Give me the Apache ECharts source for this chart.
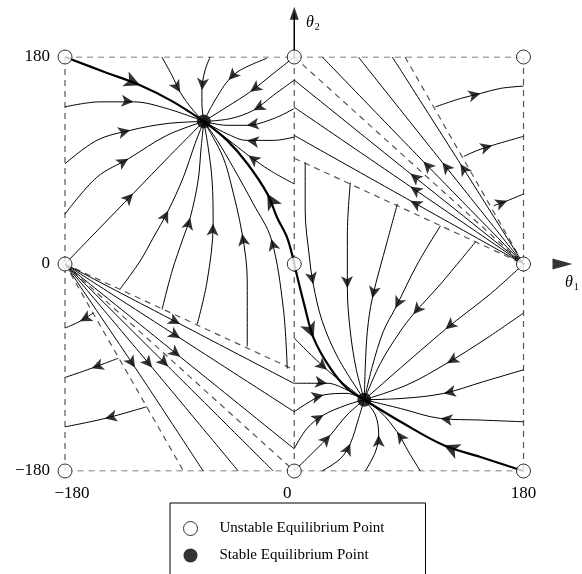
<!DOCTYPE html>
<html><head><meta charset="utf-8">
<script src="https://cdn.jsdelivr.net/npm/echarts@6/dist/echarts.min.js"></script>
<style>html,body{margin:0;padding:0;background:#fff}#c{width:582px;height:574px}</style>
</head><body><div id="c"></div>
<script>
const FONT = '"Liberation Serif","Times New Roman",serif';

// axis ticks (theta1 / theta2, degrees)
const tickValues = [-180, 0, 180];

// equilibrium points [theta1, theta2]
const unstablePoints = [[-180,180],[0,180],[180,180],[-180,0],[0,0],[180,0],[-180,-180],[0,-180],[180,-180]];
const stablePoints = [[-71,124],[55,-118]];

// bold separatrices (points listed in flow direction)
const separatrices = [
  [[-180,180],[-149,167],[-121,155.5],[-96,141.6],[-71,124]],
  [[0,0],[-5.5,22.7],[-13.4,40.2],[-21.2,61.2],[-36.9,87.4],[-52.7,107.5],[-71,124]],
  [[0,0],[8,-36],[15.2,-64.4],[28.3,-90.6],[41.4,-108.1],[55,-118]],
  [[180,-180],[146.2,-167.8],[117.4,-157.6],[85.9,-138.7],[55,-118]]
];
const separatrixArrowAt = [2, 3, 2, 2];

// thin trajectories (points listed in flow direction)
const flowLines = [
  [[-104,180],[-96,164],[-89.6,149.4],[-79.4,133.7],[-71,124]],
  [[-66,180],[-70,168.6],[-72.5,151.2],[-72.5,139.5],[-71,124]],
  [[-21.5,178.9],[-42.4,168.6],[-51.6,159.9],[-58,150],[-65,137],[-71,124]],
  [[0,180],[-16,166],[-34.6,149.7],[-52.9,136.6],[-71,124]],
  [[0,159.9],[-16.3,146.8],[-32,133.7],[-50.3,126.4],[-71,124]],
  [[0,135.2],[-16.3,126.4],[-37.2,120.6],[-52.9,120.6],[-71,124]],
  [[0,110.4],[-16.3,107.5],[-37.2,107.5],[-52.9,113.3],[-71,124]],
  [[0,69.6],[-18.9,81.3],[-35.9,94.4],[-52.9,109],[-71,124]],
  [[-180,136.6],[-152.5,141],[-126.3,141],[-100.1,135.2],[-71,124]],
  [[-180,87.1],[-155,107.5],[-128.9,116.2],[-100.1,122.1],[-71,124]],
  [[-180,43.4],[-155,75.4],[-130.2,91.5],[-100.1,111.8],[-71,124]],
  [[-180,0],[-152.5,31.5],[-126.5,61.2],[-97.5,94.4],[-71,124]],
  [[-136.8,-21.8],[-121,2.6],[-110.8,22.7],[-99,46.3],[-87.2,75.1],[-77.8,104.9],[-71,124]],
  [[-103.8,-39.6],[-95.9,-6.1],[-87.2,22.7],[-81.7,40.2],[-75.5,72.5],[-73.1,101.4],[-71,124]],
  [[-76.2,-52.4],[-68.4,-14.9],[-63.7,35],[-64.5,72.5],[-67.6,101.4],[-71,124]],
  [[-36.9,-71.7],[-36.9,-14.9],[-40.9,26.2],[-50.3,72.5],[-55.8,92.6],[-63.7,110.1],[-71,124]],
  [[-5.5,-90.9],[-8.6,-38.4],[-18.1,21.8],[-32.2,52.4],[-47.9,83.9],[-60.5,107.5],[-71,124]],
  [[180,0],[91.2,78.6],[0,159.9]],
  [[180,0],[91.2,67.3],[0,136.3]],
  [[180,0],[91.2,55],[0,111.8]],
  [[180,0],[101.4,89.1],[22,180]],
  [[180,0],[116.3,88.3],[50.3,180]],
  [[180,0],[130.5,87],[77,180]],
  [[110.8,136.6],[130.5,143.9],[146.2,148.3],[161.9,152.7],[180,154.7]],
  [[133.1,93.5],[143.6,98.7],[155.4,103.1],[180,111]],
  [[156.6,50.7],[167.2,55],[180,60.9]],
  [[8.6,88.3],[8.6,46.3],[11.8,7],[14.9,-17.5],[22,-49.8],[34.6,-82.1],[55,-118]],
  [[44,70.8],[41.7,26.2],[41.7,-21],[44,-58.5],[48.7,-91.7],[55,-118]],
  [[81,52.4],[73.1,20.1],[61.3,-29.7],[57.4,-58.5],[55.8,-89],[55,-118]],
  [[114.8,33.2],[96.7,0],[79.4,-38.4],[70,-58.5],[61.3,-89],[55,-118]],
  [[142.3,19.2],[114.8,-17.5],[93.5,-43.7],[83.3,-58.5],[67.6,-86.5],[55,-118]],
  [[180,0],[154,-26],[118.7,-56.8],[55,-118]],
  [[180,-42.6],[151.5,-64.3],[120,-86.2],[88.6,-105.1],[55,-118]],
  [[180,-92],[148.8,-102.2],[117.4,-112.5],[85.9,-116.8],[55,-118]],
  [[180,-137.2],[146.2,-135.7],[114.8,-134.3],[83.3,-125.6],[55,-118]],
  [[99,-180],[89.8,-163.4],[80.7,-145.9],[67.6,-128.5],[55,-118]],
  [[55.8,-180],[63.7,-163.4],[66.3,-148.8],[63.7,-131.3],[55,-118]],
  [[21.8,-180],[36.2,-169.3],[44,-156.2],[50.5,-134.3],[55,-118]],
  [[0,-180],[15.2,-163.4],[28.3,-148.8],[41.4,-131.3],[55,-118]],
  [[0,-64.4],[25.7,-92],[55,-118]],
  [[0,-103.7],[25.7,-103.7],[41.4,-109.5],[55,-118]],
  [[0,-128.5],[10,-121.2],[23,-113.9],[41.4,-112.5],[55,-118]],
  [[0,-160.5],[10,-143],[23,-131.3],[41.4,-122.5],[55,-118]],
  [[-180,0],[-89.6,-52.2],[0,-104]],
  [[-180,0],[-89.6,-64.5],[0,-128.5]],
  [[-180,0],[-89.6,-80.7],[0,-160.8]],
  [[-180,0],[-99,-89.1],[-16.5,-180]],
  [[-180,0],[-111.6,-90],[-44,-180]],
  [[-180,0],[-125,-90],[-71.5,-180]],
  [[-157.8,-42.6],[-168.2,-49.8],[-180,-55.7]],
  [[-138.1,-81.9],[-159,-90.6],[-180,-98.7]],
  [[-115.8,-124.1],[-148.6,-134.3],[-180,-141.6]]
];
const flowArrowAt = [2,2,2,2,2,2,2,2,2,2,2,2,3,3,2,2,2, 1,1,1,1,1,1, 2,2,1, 3,2,2,2,2,2, 2,2,2, 2,2,2,2, 1,1,2,2, 1,1,1,1,1,1, 1,1,1];

// dashed boundaries
const dashedLines = [
  [[-180,180],[180,180]], [[180,180],[180,-180]], [[180,-180],[-180,-180]], [[-180,-180],[-180,180]],
  [[0,180],[0,-180]],
  [[0,180],[180,0]], [[-180,0],[0,-180]],
  [[0,92],[180,0]], [[-180,0],[0,-92]],
  [[87,180],[180,0]], [[-180,0],[-87,-180]]
];

// coordinate axes with arrow heads
const axisLines = [[[0,180],[0,218]], [[180,0],[210.6,0]]];
const axisHeads = [[0,218],[210.6,0]];

const chart = echarts.init(document.getElementById('c'), null, {renderer:'canvas'});
const minus = v => String(v).replace('-', '\u2212');

const series = [];
dashedLines.forEach(d => series.push({type:'line', data:d, symbol:'none', silent:true, z:1,
  lineStyle:{color:'#555', width:1.2, type:[6,5]}}));
flowLines.forEach(d => series.push({type:'line', data:d, symbol:'none', smooth:0.35, silent:true, z:2,
  lineStyle:{color:'#000', width:1}}));
separatrices.forEach(d => series.push({type:'line', data:d, symbol:'none', smooth:0.35, silent:true, z:2,
  lineStyle:{color:'#000', width:2.2}}));
axisLines.forEach(d => series.push({type:'line', data:d, symbol:'none', silent:true, z:2, clip:false,
  lineStyle:{color:'#000', width:1.5}}));
series.push({id:'thinArrows', type:'scatter', data:[], symbol:'arrow', symbolSize:[9,12], silent:true, z:3,
  itemStyle:{color:'#000'}});
series.push({id:'thickArrows', type:'scatter', data:[], symbol:'arrow', symbolSize:[12,16], silent:true, z:3,
  itemStyle:{color:'#000'}});
series.push({type:'scatter', silent:true, z:3, clip:false, symbol:'triangle',
  data:[{value:axisHeads[0], symbolSize:[9,13], symbolRotate:0},{value:axisHeads[1], symbolSize:[11,20], symbolRotate:-90}],
  itemStyle:{color:'#000'}});
series.push({name:'Unstable Equilibrium Point', type:'scatter', data:unstablePoints, symbol:'circle', symbolSize:14,
  silent:true, z:5, clip:false, itemStyle:{color:'#fff', borderColor:'#000', borderWidth:1}});
series.push({name:'Stable Equilibrium Point', type:'scatter', data:stablePoints, symbol:'circle', symbolSize:14,
  silent:true, z:5, itemStyle:{color:'#000'}});

const axisCommon = {type:'value', min:-180, max:180, interval:180,
  axisLine:{show:false}, axisTick:{show:false}, splitLine:{show:false}};

chart.setOption({
  animation:false,
  backgroundColor:'#fff',
  grid:{left:65, right:58.5, top:57, bottom:103},
  xAxis:Object.assign({}, axisCommon, {axisLabel:{margin:14, color:'#000', fontFamily:FONT, fontSize:17,
    formatter:v => v === tickValues[0] ? '{r|' + minus(v) + '}' : (v === tickValues[1] ? '{l|' + v + '}' : '{n|' + v + '}'),
    rich:{r:{fontFamily:FONT, fontSize:17, color:'#000', padding:[0,0,0,14]},
          l:{fontFamily:FONT, fontSize:17, color:'#000', padding:[0,14,0,0]},
          n:{fontFamily:FONT, fontSize:17, color:'#000'}}}}),
  yAxis:Object.assign({}, axisCommon, {axisLabel:{margin:15, color:'#000', fontFamily:FONT, fontSize:17, formatter:minus}}),
  legend:{left:170, top:503, height:160, orient:'vertical', padding:[18,41,30,13], itemGap:12, itemWidth:14, itemHeight:14,
    borderColor:'#000', borderWidth:1, borderRadius:0, backgroundColor:'#fff', selectedMode:false,
    data:[{name:'Unstable Equilibrium Point', icon:'circle', itemStyle:{color:'#fff', borderColor:'#000', borderWidth:1}},
          {name:'Stable Equilibrium Point', icon:'circle', itemStyle:{color:'#000', borderWidth:0}}],
    textStyle:{fontFamily:FONT, fontSize:15, color:'#000', padding:[0,0,0,17]}},
  graphic:[
    {type:'text', left:306, top:15, style:{text:'{t|\u03b8}{s|2}', rich:{
      t:{fontFamily:FONT, fontStyle:'italic', fontSize:16, fill:'#000'},
      s:{fontFamily:FONT, fontSize:10, fill:'#000', padding:[9,0,0,1]}}}},
    {type:'text', left:565, top:275, style:{text:'{t|\u03b8}{s|1}', rich:{
      t:{fontFamily:FONT, fontStyle:'italic', fontSize:16, fill:'#000'},
      s:{fontFamily:FONT, fontSize:10, fill:'#000', padding:[9,0,0,1]}}}}
  ],
  series:series
});

function arrowItems(curves, idx) {
  return curves.map((pts, k) => {
    const i = idx[k];
    const a = chart.convertToPixel({gridIndex:0}, pts[Math.max(i - 1, 0)]);
    const b = chart.convertToPixel({gridIndex:0}, pts[Math.min(i + 1, pts.length - 1)]);
    const rot = Math.atan2(-(b[0] - a[0]), -(b[1] - a[1])) * 180 / Math.PI;
    return {value:pts[i], symbolRotate:rot};
  });
}
chart.setOption({series:[
  {id:'thinArrows', data:arrowItems(flowLines, flowArrowAt)},
  {id:'thickArrows', data:arrowItems(separatrices, separatrixArrowAt)}
]});
</script></body></html>
